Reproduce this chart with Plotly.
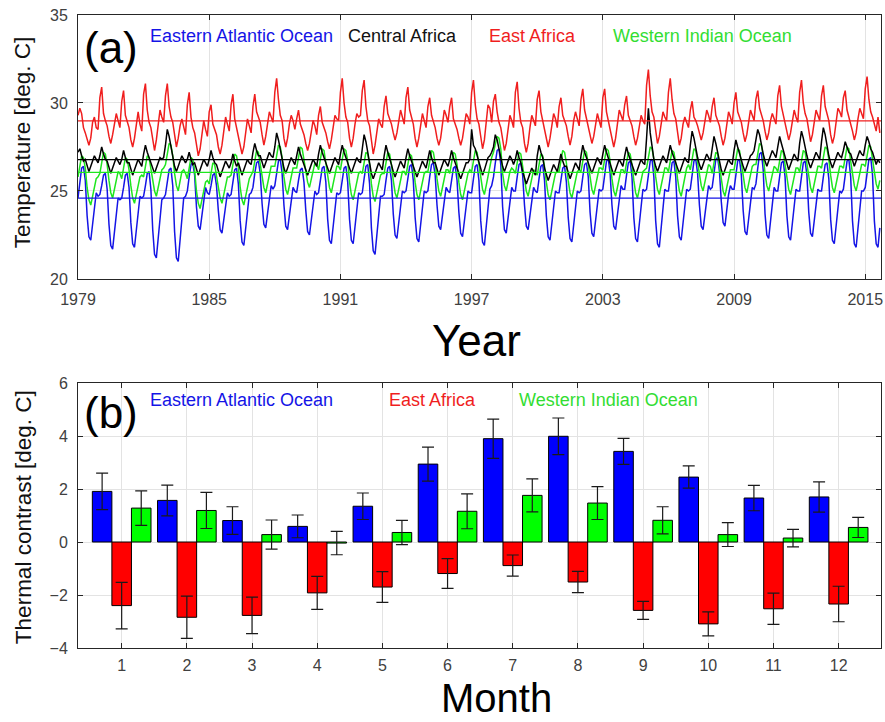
import plotly.graph_objects as go
import numpy as np

# ---------------- Panel (a): monthly mean temperature, 1979 - Sep 2015 ----------------
YEARS = list(range(1979, 2016))

EAO_MONTHLY = [  # Eastern Atlantic Ocean
    [24.6, 25.5, 26.3, 26.4, 25.6, 23.6, 22.4, 22.2, 23.1, 24.1, 24.9, 24.7],
    [24.8, 25.3, 25.9, 26.0, 25.1, 23.1, 21.9, 21.7, 22.7, 23.7, 24.6, 24.5],
    [24.6, 25.2, 25.9, 26.0, 25.2, 23.2, 22.0, 21.8, 22.8, 23.8, 24.7, 24.6],
    [24.7, 25.3, 26.0, 26.1, 25.1, 22.8, 21.4, 21.2, 22.3, 23.5, 24.5, 24.6],
    [24.8, 25.5, 26.2, 26.3, 25.3, 22.7, 21.2, 21.0, 22.2, 23.6, 24.6, 24.7],
    [25.0, 25.8, 26.5, 26.6, 25.9, 24.1, 23.0, 22.8, 23.6, 24.5, 25.2, 24.9],
    [24.8, 25.3, 25.9, 26.0, 25.3, 23.9, 22.8, 22.6, 23.4, 24.3, 24.9, 24.7],
    [24.8, 25.5, 26.2, 26.3, 25.4, 23.3, 22.1, 21.9, 22.9, 24.0, 24.8, 24.9],
    [25.2, 26.0, 26.6, 26.7, 26.0, 24.3, 23.1, 22.9, 23.8, 24.7, 25.3, 25.1],
    [25.3, 26.0, 26.7, 26.8, 26.0, 24.2, 23.0, 22.8, 23.7, 24.6, 25.2, 25.0],
    [24.9, 25.6, 26.2, 26.3, 25.5, 23.9, 22.7, 22.5, 23.4, 24.3, 25.0, 24.8],
    [24.9, 25.6, 26.3, 26.4, 25.5, 23.4, 22.2, 22.0, 23.0, 24.1, 24.9, 24.8],
    [24.9, 25.6, 26.3, 26.4, 25.5, 23.4, 22.2, 22.0, 23.0, 24.1, 24.9, 24.8],
    [24.9, 25.7, 26.4, 26.5, 25.4, 22.9, 21.6, 21.4, 22.5, 23.8, 24.7, 24.7],
    [24.8, 25.6, 26.3, 26.4, 25.6, 23.7, 22.5, 22.3, 23.2, 24.2, 25.0, 24.9],
    [25.0, 25.7, 26.4, 26.5, 25.6, 23.5, 22.3, 22.1, 23.1, 24.2, 25.0, 24.9],
    [25.0, 25.8, 26.5, 26.6, 25.9, 24.2, 23.0, 22.8, 23.7, 24.6, 25.2, 25.0],
    [24.9, 25.6, 26.3, 26.4, 25.6, 23.8, 22.6, 22.4, 23.3, 24.3, 25.0, 24.9],
    [24.9, 25.7, 26.4, 26.5, 25.6, 23.3, 22.1, 21.9, 23.0, 24.2, 25.1, 25.3],
    [25.8, 26.6, 27.3, 27.4, 26.5, 24.1, 22.8, 22.6, 23.6, 24.6, 25.2, 25.0],
    [25.0, 25.8, 26.5, 26.6, 25.9, 24.2, 23.0, 22.8, 23.7, 24.6, 25.2, 25.0],
    [24.9, 25.7, 26.4, 26.5, 25.6, 23.6, 22.4, 22.2, 23.2, 24.2, 25.0, 24.9],
    [24.9, 25.6, 26.3, 26.4, 25.5, 23.5, 22.3, 22.1, 23.1, 24.2, 25.0, 24.9],
    [25.0, 25.8, 26.5, 26.6, 25.8, 23.8, 22.6, 22.4, 23.4, 24.4, 25.1, 25.0],
    [25.1, 25.9, 26.7, 26.8, 26.0, 24.2, 23.0, 22.8, 23.7, 24.7, 25.3, 25.1],
    [25.1, 25.9, 26.6, 26.7, 25.8, 23.5, 22.3, 22.1, 23.2, 24.3, 25.1, 25.0],
    [25.1, 25.9, 26.7, 26.8, 25.8, 23.3, 22.0, 21.8, 23.0, 24.2, 25.1, 25.0],
    [25.0, 25.8, 26.6, 26.7, 25.8, 23.6, 22.4, 22.2, 23.2, 24.3, 25.1, 25.0],
    [25.1, 25.9, 26.7, 26.8, 26.0, 24.2, 23.0, 22.8, 23.7, 24.7, 25.3, 25.1],
    [25.2, 26.0, 26.8, 26.9, 26.1, 24.4, 23.2, 23.0, 23.9, 24.8, 25.3, 25.1],
    [25.1, 25.9, 26.7, 26.8, 25.9, 23.9, 22.7, 22.5, 23.5, 24.5, 25.2, 25.1],
    [25.4, 26.3, 27.1, 27.2, 26.2, 23.7, 22.5, 22.3, 23.3, 24.4, 25.2, 25.0],
    [25.0, 25.8, 26.6, 26.7, 25.8, 23.6, 22.4, 22.2, 23.2, 24.3, 25.1, 25.0],
    [25.0, 25.8, 26.6, 26.7, 25.9, 23.8, 22.6, 22.4, 23.4, 24.4, 25.1, 25.0],
    [25.0, 25.8, 26.5, 26.6, 25.7, 23.4, 22.2, 22.0, 23.1, 24.2, 25.0, 24.9],
    [25.1, 25.9, 26.7, 26.8, 25.8, 23.3, 22.0, 21.8, 22.9, 24.1, 25.0, 25.0],
    [25.2, 26.0, 26.8, 26.9, 25.9, 23.3, 22.0, 21.8, 22.9],
]

CA_MONTHLY = [  # Central Africa
    [27.2, 27.4, 27.0, 26.7, 26.8, 26.4, 26.1, 26.4, 26.7, 27.0, 26.8, 26.6],
    [27.0, 27.5, 27.1, 26.8, 26.7, 26.3, 26.0, 26.3, 26.6, 26.9, 26.7, 26.5],
    [26.8, 27.3, 26.9, 26.6, 26.6, 26.2, 25.9, 26.2, 26.5, 26.8, 26.6, 26.4],
    [27.1, 27.6, 27.2, 26.9, 26.7, 26.3, 26.0, 26.3, 26.6, 26.9, 26.8, 26.9],
    [27.6, 28.5, 28.1, 27.5, 26.8, 26.4, 26.1, 26.4, 26.7, 27.0, 26.8, 26.6],
    [26.8, 27.2, 26.8, 26.5, 26.6, 26.2, 25.9, 26.2, 26.5, 26.8, 26.6, 26.4],
    [26.8, 27.3, 26.9, 26.6, 26.5, 26.1, 25.8, 26.1, 26.4, 26.7, 26.5, 26.3],
    [26.6, 27.1, 26.7, 26.4, 26.6, 26.2, 25.9, 26.2, 26.5, 26.8, 26.6, 26.5],
    [27.2, 27.7, 27.3, 27.0, 27.0, 26.6, 26.3, 26.6, 26.9, 27.2, 27.0, 26.9],
    [27.5, 28.3, 27.9, 27.3, 26.7, 26.3, 26.0, 26.3, 26.6, 26.9, 26.7, 26.5],
    [27.0, 27.5, 27.1, 26.8, 26.6, 26.2, 25.9, 26.2, 26.5, 26.8, 26.6, 26.4],
    [27.1, 27.6, 27.2, 26.9, 26.7, 26.3, 26.0, 26.3, 26.6, 26.9, 26.7, 26.5],
    [27.1, 27.6, 27.2, 26.9, 26.7, 26.3, 26.0, 26.3, 26.6, 26.9, 26.7, 26.6],
    [27.4, 28.2, 27.8, 27.2, 26.4, 26.0, 25.7, 26.0, 26.3, 26.6, 26.4, 26.2],
    [27.0, 27.6, 27.2, 26.9, 26.5, 26.1, 25.8, 26.1, 26.4, 26.7, 26.5, 26.3],
    [26.9, 27.4, 27.0, 26.7, 26.5, 26.1, 25.8, 26.1, 26.4, 26.7, 26.5, 26.3],
    [26.8, 27.3, 26.9, 26.6, 26.6, 26.2, 25.9, 26.2, 26.5, 26.8, 26.6, 26.4],
    [26.8, 27.3, 26.9, 26.6, 26.4, 26.0, 25.7, 26.0, 26.3, 26.6, 26.6, 26.8],
    [28.5, 27.6, 27.4, 27.0, 26.6, 26.2, 25.9, 26.2, 26.5, 26.9, 27.0, 27.2],
    [27.5, 28.2, 27.9, 27.4, 26.8, 26.4, 26.1, 26.4, 26.7, 27.0, 26.8, 26.5],
    [26.8, 27.3, 26.9, 26.6, 26.1, 25.7, 25.4, 25.7, 26.0, 26.3, 26.1, 25.9],
    [27.0, 27.6, 27.2, 26.9, 26.3, 25.9, 25.6, 25.9, 26.2, 26.5, 26.3, 26.1],
    [26.6, 27.1, 26.7, 26.4, 26.4, 26.0, 25.7, 26.0, 26.3, 26.6, 26.4, 26.2],
    [27.0, 27.6, 27.2, 26.9, 26.7, 26.3, 26.0, 26.3, 26.6, 26.9, 26.7, 26.5],
    [27.1, 27.6, 27.2, 26.9, 26.6, 26.2, 25.9, 26.2, 26.5, 26.8, 26.6, 26.4],
    [27.0, 27.5, 27.1, 26.8, 26.6, 26.2, 25.9, 26.2, 26.5, 26.8, 26.6, 26.5],
    [28.0, 29.7, 28.3, 27.5, 26.8, 26.4, 26.1, 26.4, 26.7, 27.0, 26.8, 26.6],
    [27.1, 27.6, 27.2, 26.9, 26.7, 26.3, 26.0, 26.3, 26.6, 26.9, 26.7, 26.6],
    [27.6, 28.4, 28.0, 27.4, 26.9, 26.5, 26.2, 26.5, 26.8, 27.1, 26.9, 26.7],
    [27.4, 28.1, 27.7, 27.2, 26.6, 26.2, 25.9, 26.2, 26.5, 26.8, 26.6, 26.5],
    [27.3, 27.9, 27.5, 27.1, 26.8, 26.4, 26.1, 26.4, 26.7, 27.0, 27.1, 27.3],
    [27.9, 28.5, 28.2, 27.6, 27.1, 26.7, 26.4, 26.7, 27.0, 27.3, 27.1, 26.9],
    [27.5, 28.1, 27.7, 27.3, 26.9, 26.5, 26.2, 26.5, 26.8, 27.1, 26.9, 26.7],
    [27.7, 28.4, 28.0, 27.4, 27.0, 26.6, 26.3, 26.6, 26.9, 27.2, 27.0, 26.8],
    [27.8, 28.6, 28.2, 27.5, 27.0, 26.6, 26.3, 26.6, 26.9, 27.2, 27.0, 26.9],
    [27.3, 27.8, 27.5, 27.2, 27.1, 26.7, 26.4, 26.7, 27.0, 27.3, 27.1, 27.0],
    [27.6, 28.1, 27.8, 27.4, 27.2, 26.8, 26.5, 26.8, 26.6],
]

EA_MONTHLY = [  # East Africa
    [29.3, 29.7, 29.4, 28.6, 28.3, 27.9, 27.6, 28.0, 28.9, 29.2, 28.6, 28.5],
    [30.3, 30.9, 29.4, 29.0, 28.7, 28.1, 27.7, 28.2, 28.8, 29.4, 29.0, 28.6],
    [30.1, 30.7, 29.3, 28.9, 28.6, 27.9, 27.5, 28.0, 28.9, 29.5, 28.8, 28.4],
    [30.5, 31.1, 29.6, 28.9, 28.6, 27.8, 27.3, 27.9, 28.8, 29.6, 29.2, 28.9],
    [30.4, 31.1, 29.8, 29.2, 28.9, 28.1, 27.5, 28.0, 28.7, 29.1, 28.6, 28.2],
    [29.9, 30.6, 29.2, 28.6, 28.3, 27.5, 27.0, 27.4, 28.3, 29.0, 28.5, 28.1],
    [29.5, 29.9, 28.8, 28.5, 28.2, 27.5, 27.1, 27.6, 28.5, 29.2, 28.8, 28.4],
    [29.9, 30.5, 29.1, 28.6, 28.3, 27.6, 27.1, 27.5, 28.4, 29.1, 28.7, 28.3],
    [29.8, 30.5, 29.5, 29.2, 28.9, 28.2, 27.6, 28.1, 28.9, 29.5, 29.2, 28.9],
    [30.6, 31.4, 30.2, 29.3, 29.0, 28.0, 27.5, 28.0, 28.8, 29.3, 29.0, 28.5],
    [29.1, 29.6, 28.8, 28.5, 28.2, 27.7, 27.3, 27.7, 28.4, 29.0, 28.7, 28.2],
    [29.3, 29.8, 28.9, 28.6, 28.3, 27.8, 27.4, 27.9, 28.6, 29.3, 29.1, 29.0],
    [30.6, 31.4, 30.0, 29.2, 28.9, 28.0, 27.5, 28.0, 28.8, 29.4, 29.2, 29.3],
    [30.7, 31.3, 29.8, 29.0, 28.7, 27.7, 27.1, 27.6, 28.5, 29.1, 28.8, 28.6],
    [29.8, 30.4, 29.4, 29.1, 28.8, 28.3, 27.9, 28.3, 29.0, 29.6, 29.2, 28.8],
    [30.3, 30.9, 29.6, 29.1, 28.8, 28.0, 27.5, 28.0, 28.8, 29.4, 29.0, 28.6],
    [29.8, 30.3, 29.3, 28.9, 28.6, 28.0, 27.6, 28.0, 28.9, 29.6, 29.3, 28.9],
    [29.8, 30.3, 29.1, 28.8, 28.5, 28.0, 27.6, 28.0, 28.7, 29.4, 29.2, 28.8],
    [30.6, 31.3, 29.9, 29.1, 28.8, 28.0, 27.4, 27.9, 28.8, 29.9, 29.7, 28.9],
    [30.1, 30.5, 29.5, 28.9, 28.6, 27.8, 27.3, 27.7, 28.6, 29.3, 29.0, 28.6],
    [30.6, 31.2, 29.7, 28.9, 28.6, 27.7, 27.2, 27.7, 28.6, 29.3, 29.0, 28.7],
    [30.2, 30.7, 29.5, 29.0, 28.7, 28.0, 27.5, 28.0, 28.8, 29.4, 29.1, 28.6],
    [29.8, 30.3, 29.3, 29.0, 28.7, 28.1, 27.6, 28.1, 29.0, 29.5, 29.1, 28.7],
    [30.2, 30.8, 29.6, 29.1, 28.8, 28.2, 27.7, 28.1, 28.9, 29.4, 29.0, 28.6],
    [30.3, 30.8, 29.5, 29.0, 28.7, 28.0, 27.5, 28.0, 28.9, 29.6, 29.3, 29.0],
    [29.9, 30.4, 29.3, 29.0, 28.7, 28.1, 27.6, 28.0, 28.8, 29.3, 29.0, 28.8],
    [31.0, 31.9, 30.4, 29.5, 29.2, 28.3, 27.7, 28.1, 28.9, 29.5, 29.2, 29.0],
    [30.6, 31.4, 30.2, 29.4, 29.1, 28.2, 27.6, 28.0, 28.8, 29.2, 28.9, 28.6],
    [29.6, 30.1, 29.2, 29.0, 28.7, 28.3, 27.9, 28.3, 29.0, 29.6, 29.3, 28.9],
    [29.8, 30.3, 29.3, 29.0, 28.7, 28.1, 27.6, 28.0, 28.9, 29.5, 29.2, 28.8],
    [30.0, 30.6, 29.5, 29.2, 28.9, 28.3, 27.8, 28.2, 29.0, 29.6, 29.3, 29.0],
    [30.2, 30.7, 29.7, 29.3, 29.0, 28.4, 27.9, 28.3, 29.0, 29.4, 29.1, 28.8],
    [30.4, 31.0, 29.8, 29.3, 29.0, 28.4, 27.9, 28.3, 29.1, 29.6, 29.2, 28.9],
    [30.6, 31.3, 30.0, 29.4, 29.1, 28.3, 27.8, 28.2, 29.0, 29.6, 29.3, 29.0],
    [30.4, 31.0, 29.8, 29.3, 29.0, 28.2, 27.7, 28.1, 29.0, 29.7, 29.5, 29.2],
    [30.3, 30.7, 29.6, 29.2, 28.9, 28.4, 27.9, 28.3, 29.1, 29.7, 29.4, 29.1],
    [30.8, 31.5, 30.2, 29.5, 29.2, 28.7, 28.4, 29.2, 28.3],
]

WIO_MONTHLY = [  # Western Indian Ocean
    [25.8, 26.4, 27.0, 26.9, 26.3, 25.2, 24.5, 24.2, 24.7, 25.3, 25.7, 25.8],
    [26.0, 26.6, 27.2, 27.1, 26.5, 25.6, 24.9, 24.6, 25.1, 25.7, 26.1, 26.0],
    [25.7, 26.3, 26.9, 26.8, 26.2, 25.3, 24.6, 24.3, 24.8, 25.4, 25.8, 25.9],
    [25.8, 26.4, 27.0, 26.9, 26.3, 25.7, 25.0, 24.7, 25.2, 25.8, 26.2, 26.3],
    [26.5, 27.1, 27.7, 27.6, 27.0, 26.0, 25.3, 25.0, 25.5, 26.1, 26.2, 26.0],
    [25.7, 26.3, 26.9, 26.8, 26.2, 25.0, 24.3, 24.0, 24.5, 25.1, 25.5, 25.6],
    [25.4, 26.0, 26.6, 26.5, 25.9, 25.3, 24.6, 24.3, 24.8, 25.4, 25.8, 25.8],
    [25.9, 26.5, 27.1, 27.0, 26.4, 25.2, 24.5, 24.2, 24.7, 25.3, 25.7, 25.9],
    [26.1, 26.7, 27.3, 27.2, 26.6, 25.9, 25.2, 24.9, 25.4, 26.0, 26.4, 26.4],
    [26.4, 27.0, 27.6, 27.5, 26.9, 25.8, 25.1, 24.8, 25.3, 25.9, 26.3, 26.3],
    [26.3, 26.9, 27.5, 27.4, 26.8, 26.2, 25.5, 25.2, 25.7, 26.3, 26.6, 26.5],
    [26.2, 26.8, 27.4, 27.3, 26.7, 25.9, 25.2, 24.9, 25.4, 26.0, 26.4, 26.4],
    [26.2, 26.8, 27.4, 27.3, 26.7, 25.5, 24.8, 24.5, 25.0, 25.6, 26.0, 26.1],
    [26.0, 26.6, 27.2, 27.1, 26.5, 25.4, 24.7, 24.4, 24.9, 25.5, 25.9, 26.0],
    [26.0, 26.6, 27.2, 27.1, 26.5, 25.6, 24.9, 24.6, 25.1, 25.7, 26.1, 26.1],
    [25.9, 26.5, 27.1, 27.0, 26.4, 25.5, 24.8, 24.5, 25.0, 25.6, 26.0, 26.1],
    [26.1, 26.7, 27.3, 27.2, 26.6, 25.7, 25.0, 24.7, 25.2, 25.8, 26.2, 26.2],
    [26.0, 26.6, 27.2, 27.1, 26.5, 25.5, 24.8, 24.5, 25.0, 25.6, 26.0, 26.2],
    [26.1, 26.7, 27.3, 27.2, 26.6, 25.8, 25.1, 24.8, 25.3, 25.9, 26.5, 26.9],
    [27.2, 27.7, 28.1, 28.0, 27.4, 26.0, 25.3, 25.0, 25.5, 26.1, 26.3, 26.2],
    [26.0, 26.6, 27.2, 27.1, 26.5, 25.7, 25.0, 24.7, 25.2, 25.8, 26.2, 26.1],
    [25.9, 26.5, 27.1, 27.0, 26.4, 25.5, 24.8, 24.5, 25.0, 25.6, 26.0, 26.1],
    [26.1, 26.7, 27.3, 27.2, 26.6, 25.6, 24.9, 24.6, 25.1, 25.7, 26.1, 26.2],
    [26.1, 26.7, 27.3, 27.2, 26.6, 25.8, 25.1, 24.8, 25.3, 25.9, 26.3, 26.3],
    [26.2, 26.8, 27.4, 27.3, 26.7, 25.7, 25.0, 24.7, 25.2, 25.8, 26.2, 26.2],
    [26.0, 26.6, 27.2, 27.1, 26.5, 25.6, 24.9, 24.6, 25.1, 25.7, 26.1, 26.2],
    [26.3, 26.9, 27.5, 27.4, 26.8, 25.8, 25.1, 24.8, 25.3, 25.9, 26.3, 26.3],
    [26.1, 26.7, 27.3, 27.2, 26.6, 25.7, 25.0, 24.7, 25.2, 25.8, 26.3, 26.5],
    [26.2, 26.8, 27.4, 27.3, 26.7, 26.0, 25.3, 25.0, 25.5, 26.1, 26.5, 26.4],
    [26.0, 26.6, 27.2, 27.1, 26.5, 25.7, 25.0, 24.7, 25.2, 25.8, 26.2, 26.2],
    [26.2, 26.8, 27.4, 27.3, 26.7, 25.9, 25.2, 24.9, 25.4, 26.0, 26.4, 26.5],
    [26.5, 27.1, 27.7, 27.6, 27.0, 26.0, 25.3, 25.0, 25.5, 26.1, 26.4, 26.3],
    [26.1, 26.7, 27.3, 27.2, 26.6, 25.8, 25.1, 24.8, 25.3, 25.9, 26.3, 26.3],
    [26.1, 26.7, 27.3, 27.2, 26.6, 25.9, 25.2, 24.9, 25.4, 26.0, 26.4, 26.4],
    [26.3, 26.9, 27.5, 27.4, 26.8, 25.9, 25.2, 24.9, 25.4, 26.0, 26.4, 26.4],
    [26.3, 26.9, 27.5, 27.4, 26.8, 26.0, 25.3, 25.0, 25.5, 26.1, 26.5, 26.5],
    [26.4, 27.0, 27.6, 27.5, 26.9, 26.1, 25.4, 25.1, 25.6],
]

YEAR_TICKS = [1979, 1985, 1991, 1997, 2003, 2009, 2015]

# ---------------- Panel (b): monthly thermal contrast ----------------
MONTHS = list(range(1, 13))
EAO_CONTRAST = [1.91, 1.57, 0.81, 0.59, 1.35, 2.94, 3.90, 3.99, 3.42, 2.45, 1.66, 1.70]
EAO_ERR = [0.69, 0.58, 0.52, 0.43, 0.50, 0.64, 0.74, 0.69, 0.49, 0.42, 0.48, 0.57]
EA_CONTRAST = [-2.40, -2.84, -2.77, -1.92, -1.70, -1.19, -0.89, -1.51, -2.58, -3.09, -2.52, -2.34]
EA_ERR = [0.88, 0.80, 0.69, 0.62, 0.58, 0.56, 0.40, 0.40, 0.34, 0.45, 0.59, 0.67]
WIO_CONTRAST = [1.28, 1.19, 0.28, -0.04, 0.36, 1.16, 1.76, 1.47, 0.82, 0.28, 0.15, 0.55]
WIO_ERR = [0.65, 0.68, 0.55, 0.44, 0.46, 0.66, 0.62, 0.62, 0.51, 0.45, 0.33, 0.38]

# ---------------- styling ----------------
FONT = "Liberation Sans, Arial, sans-serif"
AXIS_COL = "#262626"
TICK_COL = "#404040"
GRID_COL = "#e3e3e3"
C_BLUE, C_BLACK, C_RED, C_GREEN = "#1414e6", "#000000", "#f01e1e", "#1ee61e"
BAR_BLUE, BAR_RED, BAR_GREEN = "#0000ff", "#ff0000", "#00ff00"

# page geometry of the plotting area (pixels)
W, H = 885, 722
ML, MR, MT, MB = 78, 2, 15, 74


def monthly_series(rows):
    t, v = [], []
    for yr, row in zip(YEARS, rows):
        for m, val in enumerate(row):
            t.append(yr + m / 12.0)
            v.append(val)
    return t, v


fig = go.Figure()

series = [
    (EAO_MONTHLY, C_BLUE),
    (WIO_MONTHLY, C_GREEN),
    (CA_MONTHLY, C_BLACK),
    (EA_MONTHLY, C_RED),
]
for rows, col in series:
    t, v = monthly_series(rows)
    fig.add_trace(go.Scatter(x=t, y=v, mode="lines", line=dict(color=col, width=1.5),
                             xaxis="x", yaxis="y", showlegend=False))
    # long-term mean of the series
    fig.add_shape(type="line", xref="x domain", x0=0, x1=1, yref="y",
                  y0=float(np.mean(v)), y1=float(np.mean(v)),
                  line=dict(color=col, width=1.2))

bar_sets = [
    (EAO_CONTRAST, EAO_ERR, BAR_BLUE),
    (EA_CONTRAST, EA_ERR, BAR_RED),
    (WIO_CONTRAST, WIO_ERR, BAR_GREEN),
]
for vals, err, col in bar_sets:
    fig.add_trace(go.Bar(x=MONTHS, y=vals, marker=dict(color=col, line=dict(color="#000000", width=1)),
                         error_y=dict(type="data", array=err, color="#1a1a1a", thickness=1.2, width=6),
                         xaxis="x2", yaxis="y2", showlegend=False))

axis_common = dict(showline=True, linecolor=AXIS_COL, linewidth=1, mirror="ticks",
                   ticks="inside", ticklen=5, tickcolor=AXIS_COL, showgrid=True,
                   gridcolor=GRID_COL, gridwidth=1, zeroline=False,
                   ticklabeloverflow="allow",
                   tickfont=dict(family=FONT, size=16, color=TICK_COL))

fig.update_layout(
    width=W, height=H,
    margin=dict(l=ML, r=MR, t=MT, b=MB),
    paper_bgcolor="white", plot_bgcolor="white",
    barmode="group", bargap=0.1, bargroupgap=0,
    xaxis=dict(domain=[0, 1], range=[1979, 2015.72], tickmode="array", tickvals=YEAR_TICKS,
               ticktext=[str(y) for y in YEAR_TICKS], anchor="y", ticklabelstandoff=6,
               **axis_common),
    yaxis=dict(domain=[0.583, 1], range=[20, 35], tickvals=[20, 25, 30, 35],
               anchor="x", ticklabelstandoff=6, **axis_common),
    xaxis2=dict(domain=[0, 1], range=[0.33, 12.65], tickvals=MONTHS,
                anchor="y2", ticklabelstandoff=3, **axis_common),
    yaxis2=dict(domain=[0, 0.4186], range=[-4, 6], tickvals=[-4, -2, 0, 2, 4, 6],
                anchor="x2", ticklabelstandoff=6, **axis_common),
)


def note(text, px, py, size, color="#000000", angle=0, xanchor="center"):
    # convert page pixels into paper fractions of the plotting area
    fx = (px - ML) / (W - ML - MR)
    fy = 1 - (py - MT) / (H - MT - MB)
    fig.add_annotation(text=text, x=fx, y=fy, xref="paper", yref="paper",
                       xanchor=xanchor, yanchor="middle", showarrow=False, textangle=angle,
                       font=dict(family=FONT, size=size, color=color))


note("(a)", 111, 48, 44)
note("Eastern Atlantic Ocean", 148, 36, 18, C_BLUE, xanchor="left")
note("Central Africa", 347, 36, 18, "#111111", xanchor="left")
note("East Africa", 488, 36, 18, C_RED, xanchor="left")
note("Western Indian Ocean", 612, 36, 18, "#33dd33", xanchor="left")
note("Year", 477, 340, 44)
note("Temperature [deg. C]", 23, 143, 22.5, "#111111", angle=-90)

note("(b)", 111, 412, 44)
note("Eastern Atlantic Ocean", 148, 400, 18, C_BLUE, xanchor="left")
note("East Africa", 388, 400, 18, C_RED, xanchor="left")
note("Western Indian Ocean", 518, 400, 18, "#33dd33", xanchor="left")
note("Month", 498, 698, 40)
note("Thermal contrast [deg. C]", 23, 517, 22.5, "#111111", angle=-90)

fig.write_html("out.html")
